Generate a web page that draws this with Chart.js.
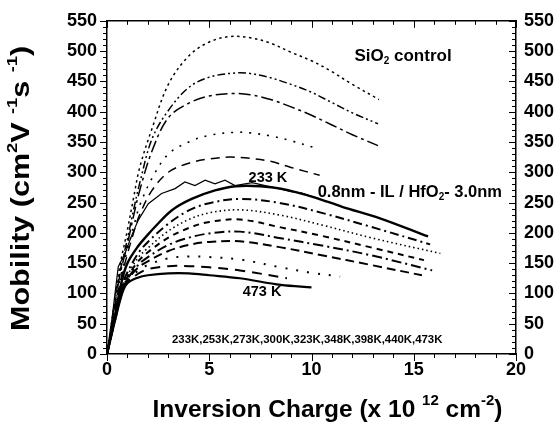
<!DOCTYPE html>
<html>
<head>
<meta charset="utf-8">
<script src="https://cdn.jsdelivr.net/npm/chart.js@4"></script>
<style>
  html, body { margin: 0; padding: 0; background: #fff; }
  #wrap { width: 560px; height: 424px; }
</style>
</head>
<body>
<div id="wrap"><canvas id="mobChart" width="560" height="424"></canvas></div>
<script>
// axis ranges / ticks
const xTicks = [0, 5, 10, 15, 20];
const yTicks = [0, 50, 100, 150, 200, 250, 300, 350, 400, 450, 500, 550];

// SiO2 control curves [Ninv (1e12 cm^-2), mobility]
const sio2A = [[0,0],[0.3,70],[0.6,140],[1,205],[1.3,258],[1.6,308],[2.2,372],[3,445],[4,492],[5,515],[6,524],[7,522],[8,513],[9,498],[10,484],[11,466],[12,445],[13.3,420]];
const sio2B = [[0,0],[0.3,65],[0.6,130],[1,190],[1.3,238],[1.6,282],[2.2,355],[3,402],[4,440],[5,457],[6.3,464],[7,463],[8,456],[9,445],[10,432],[11,415],[12,398],[13.25,380]];
const sio2C = [[0,0],[0.3,62],[0.6,125],[1,182],[1.3,228],[1.6,270],[2.2,335],[3,390],[4,414],[5,426],[6.2,430],[7,428],[8,420],[9,408],[10,394],[11,378],[12,362],[13.25,344]];
const sio2D = [[0,0],[0.3,60],[0.6,118],[1,172],[1.3,210],[1.6,245],[2.2,290],[3,330],[4,350],[5,361],[6.3,366],[7,365],[8,360],[9,352],[10.1,341]];
const sio2E = [[0,0],[0.3,58],[0.6,112],[1,165],[1.3,200],[1.6,230],[2.2,270],[3,300],[4,315],[5,322],[6,325],[7,323],[8,318],[9,308],[10.4,295]];

// 0.8nm IL / 3.0nm HfO2 curves, 233K ... 473K
const hf233raw = [[0,0],[0.25,60],[0.55,144],[0.88,166],[1.2,195],[1.53,221],[2.02,248],[2.67,265],[3.33,273],[3.81,284],[4.3,278],[4.8,287],[5.28,281],[5.77,287],[6.26,278],[7.1,283],[8,276],[9,268],[9.5,266],[10.3,257]];
const hf233 = [[0,0],[0.4,65],[0.72,120],[1,150],[1.5,177],[2,197],[2.35,210],[3.16,237],[4.14,256],[5.28,270],[6.3,277],[7.5,277],[8.5,273],[10.1,259],[11.5,243],[13.35,224],[15.7,194]];
const hf253 = [[0,0],[0.4,63],[0.75,115],[1,135],[1.5,165],[2,185],[3,215],[4,237],[5,249],[6.5,256],[8.5,249],[10.5,233],[12.9,210],[15.8,181]];
const hf273 = [[0,0],[0.4,62],[0.75,113],[1,130],[1.5,158],[2,175],[3,203],[4,222],[5,233],[6.5,238],[8.5,229],[10.5,213],[12.9,192],[16.3,166]];
const hf300 = [[0,0],[0.4,61],[0.75,111],[1,127],[1.5,152],[2,168],[3,192],[4,208],[5,218],[6.5,222],[8.5,209],[10.5,195],[12.9,176],[15.5,155]];
const hf323 = [[0,0],[0.4,60],[0.75,109],[1,124],[1.5,146],[2,160],[3,180],[4,192],[5,199],[6.5,202],[8.5,191],[10.5,179],[12.9,163],[15.9,138]];
const hf348 = [[0,0],[0.4,59],[0.75,107],[1,122],[1.5,142],[2,153],[3,170],[4,180],[5,185],[6.5,186],[8.5,176],[10.5,163],[12.9,147],[15.4,130]];
const hf398 = [[0,0],[0.4,58],[0.75,105],[1,120],[1.5,137],[2,147],[3,158],[4,161],[5,160],[6.5,156],[8.5,143],[10,134],[11.4,128]];
const hf440 = [[0,0],[0.4,57],[0.75,103],[1,118],[1.5,132],[2,140],[3,145],[4,145],[5,143],[6.5,138],[8.8,125]];
const hf473 = [[0,0],[0.4,56],[0.75,101],[1,117],[1.5,126],[2,130],[3,133],[4,133],[5,130],[6.5,125],[8.5,114],[10,110]];

const tempList = '233K,253K,273K,300K,323K,348K,398K,440K,473K';

const FONT = '"Liberation Sans", Arial, sans-serif';

function series(pts, width, dash, tension) {
    return {
        data: pts.map(p => ({ x: p[0], y: p[1] })),
        showLine: true,
        borderColor: '#000',
        backgroundColor: '#000',
        borderWidth: width,
        borderDash: dash,
        pointRadius: 0,
        tension: tension === undefined ? 0.35 : tension,
        fill: false
    };
}

// text with super/subscripts: parts = [[text, 'sup'|'sub'|null], ...]
function richText(ctx, parts, x, y, size, opts) {
    opts = opts || {};
    const small = Math.round(size * 0.6);
    const measure = p => {
        ctx.font = `bold ${p[1] ? small : size}px ${FONT}`;
        return ctx.measureText(p[0]).width;
    };
    const total = parts.reduce((s, p) => s + measure(p), 0);
    ctx.save();
    ctx.translate(x, y);
    if (opts.rotate) ctx.rotate(opts.rotate);
    ctx.scale(opts.sx || 1, 1);
    ctx.fillStyle = '#000';
    ctx.textBaseline = 'middle';
    ctx.textAlign = 'left';
    let cx = opts.align === 'left' ? 0 : -total / 2;
    parts.forEach(p => {
        const w = measure(p);
        let dy = 0;
        if (p[1] === 'sup') dy = -size * 0.38;
        if (p[1] === 'sub') dy = size * 0.3;
        ctx.fillText(p[0], cx, dy);
        cx += w;
    });
    ctx.restore();
}

const decorPlugin = {
    id: 'decor',
    afterDraw(chart) {
        const { ctx, chartArea: a, scales: { x, y } } = chart;
        ctx.save();
        ctx.strokeStyle = '#000';
        ctx.lineWidth = 1;
        // minor / major ticks
        for (let v = 0; v <= 550; v += 10) {
            const py = Math.round(y.getPixelForValue(v)) + 0.5;
            const len = v % 50 === 0 ? 7 : 4;
            ctx.beginPath();
            ctx.moveTo(a.left - len, py); ctx.lineTo(a.left, py);
            ctx.moveTo(a.right, py); ctx.lineTo(a.right - len, py);
            ctx.stroke();
        }
        for (let v = 0; v <= 20; v += 1) {
            const px = Math.round(x.getPixelForValue(v)) + 0.5;
            const len = v % 5 === 0 ? 7 : 4;
            ctx.beginPath();
            ctx.moveTo(px, a.bottom); ctx.lineTo(px, a.bottom + len);
            ctx.moveTo(px, a.top); ctx.lineTo(px, a.top + len);
            ctx.stroke();
        }
        ctx.restore();

        // axis titles
        richText(ctx, [['Inversion Charge (x 10 ', null], ['12', 'sup'], [' cm', null], ['-2', 'sup'], [')', null]],
            (a.left + a.right) / 2 + 16, a.bottom + 56, 24.5, {});
        richText(ctx, [['Mobility (cm', null], ['2', 'sup'], ['V ', null], ['-1', 'sup'], ['s ', null], ['-1', 'sup'], [')', null]],
            22, (a.top + a.bottom) / 2 + 1, 25, { rotate: -Math.PI / 2, sx: 1.22 });

        // annotations placed in data coordinates
        const X = v => x.getPixelForValue(v), Y = v => y.getPixelForValue(v);
        richText(ctx, [['SiO', null], ['2', 'sub'], [' control', null]], X(12.1), Y(492), 17, { align: 'left' });
        richText(ctx, [['0.8nm - IL / HfO', null], ['2', 'sub'], ['- 3.0nm', null]], X(10.3), Y(267), 16.5, { align: 'left' });
        richText(ctx, [['233 K', null]], X(7.87), Y(291), 14.5, {});
        richText(ctx, [['473 K', null]], X(7.58), Y(102), 14.5, {});
        richText(ctx, [[tempList, null]], X(3.18), Y(23), 11.4, { align: 'left' });
    }
};

const tickFont = { family: FONT, size: 18, weight: 'bold' };

new Chart(document.getElementById('mobChart'), {
    type: 'scatter',
    data: {
        datasets: [
            series(sio2A, 1.5, [2.5, 3.5]),
            series(sio2B, 1.5, [8, 3, 2, 3, 2, 3]),
            series(sio2C, 1.5, [12, 4, 3, 4]),
            series(sio2D, 1.6, [2, 7]),
            series(sio2E, 1.5, [9, 6]),
            series(hf233raw, 1.2, [], 0),
            series(hf233, 2.4, []),
            series(hf253, 2, [9, 4, 2, 4]),
            series(hf273, 1.6, [1.5, 3]),
            series(hf300, 2, [6, 5]),
            series(hf323, 2, [10, 4, 2, 4]),
            series(hf348, 2, [9, 5]),
            series(hf398, 2, [2, 9]),
            series(hf440, 2, [10, 7]),
            series(hf473, 2.2, [])
        ]
    },
    options: {
        responsive: false,
        animation: false,
        layout: { padding: { top: 20, left: 0, right: 0, bottom: 0 } },
        plugins: { legend: { display: false }, tooltip: { enabled: false } },
        scales: {
            x: {
                type: 'linear', position: 'bottom', min: 0, max: 20,
                afterBuildTicks: s => { s.ticks = xTicks.map(v => ({ value: v })); },
                ticks: { color: '#000', font: tickFont, padding: 5, maxRotation: 0 },
                grid: { display: false, drawTicks: false },
                border: { color: '#000', width: 1.5 },
                afterFit: s => { s.height = 70; }
            },
            x2: {
                type: 'linear', position: 'top', min: 0, max: 20,
                ticks: { display: false },
                grid: { display: false, drawTicks: false },
                border: { color: '#000', width: 1.5 },
                afterFit: s => { s.height = 0; }
            },
            y: {
                type: 'linear', position: 'left', min: 0, max: 550,
                afterBuildTicks: s => { s.ticks = yTicks.map(v => ({ value: v })); },
                ticks: { color: '#000', font: tickFont, padding: 10 },
                grid: { display: false, drawTicks: false },
                border: { color: '#000', width: 1.5 },
                afterFit: s => { s.width = 107; }
            },
            y2: {
                type: 'linear', position: 'right', min: 0, max: 550,
                afterBuildTicks: s => { s.ticks = yTicks.map(v => ({ value: v })); },
                ticks: { color: '#000', font: tickFont, padding: 8 },
                grid: { display: false, drawTicks: false },
                border: { color: '#000', width: 1.5 },
                afterFit: s => { s.width = 44; }
            }
        }
    },
    plugins: [decorPlugin]
});
</script>
</body>
</html>
